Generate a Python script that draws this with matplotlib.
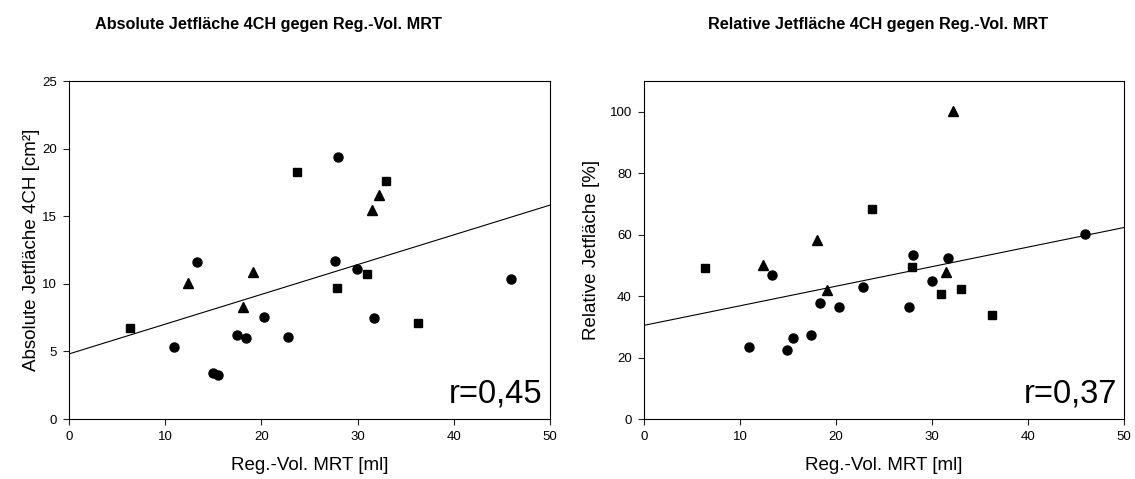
import numpy as np
import matplotlib
matplotlib.use('Agg')
import matplotlib.pyplot as plt

plt.rcParams['font.family'] = ['Liberation Sans', 'DejaVu Sans']

# Reg.-Vol. MRT [ml] per group
vol_sq = [6.35, 23.75, 33.0, 30.96, 27.88, 36.27]
vol_tri = [12.41, 19.1, 18.07, 31.45, 32.18]
vol_circ = [27.98, 13.35, 27.64, 29.96, 45.98, 20.28, 31.7, 17.44, 18.38, 22.78, 10.96, 14.94, 15.5]

# absolute jet area 4CH [cm²]
abs_sq = [6.75, 18.28, 17.6, 10.74, 9.66, 7.07]
abs_tri = [10.05, 10.85, 8.3, 15.47, 16.55]
abs_circ = [19.38, 11.63, 11.72, 11.11, 10.32, 7.54, 7.49, 6.18, 5.99, 6.06, 5.3, 3.37, 3.23]

# relative jet area [%]
rel_sq = [49.1, 68.3, 42.3, 40.7, 49.6, 33.7]
rel_tri = [50.0, 42.0, 58.4, 47.9, 100.3]
rel_circ = [53.5, 47.0, 36.6, 44.8, 60.1, 36.6, 52.4, 27.5, 37.6, 42.9, 23.4, 22.3, 26.3]

r_texts = ["r=0,45", "r=0,37"]
titles = ["Absolute Jetfläche 4CH gegen Reg.-Vol. MRT",
          "Relative Jetfläche 4CH gegen Reg.-Vol. MRT"]
ylabels = ["Absolute Jetfläche 4CH [cm²]", "Relative Jetfläche [%]"]

fig = plt.figure(figsize=(11.35, 4.79), dpi=100)
ax1 = fig.add_axes([69/1135, 1-419/479, 481/1135, 338/479])
ax2 = fig.add_axes([644/1135, 1-419/479, 480/1135, 338/479])


def draw(ax, sq, tri, circ, ylim, yticks, ylabel, rtext, ylab_x):
    ax.plot(vol_circ, circ, 'o', color='black', markersize=6.5, linestyle='none')
    ax.plot(vol_sq, sq, 's', color='black', markersize=6, linestyle='none')
    ax.plot(vol_tri, tri, '^', color='black', markersize=6.5, linestyle='none')
    x_all = np.array(vol_sq + vol_tri + vol_circ)
    y_all = np.array(sq + tri + circ)
    k, d = np.polyfit(x_all, y_all, 1)
    xs = np.array([0, 50])
    ax.plot(xs, k*xs + d, color='black', linewidth=0.8)
    ax.set_xlim(0, 50)
    ax.set_ylim(*ylim)
    ax.set_xticks([0, 10, 20, 30, 40, 50])
    ax.set_yticks(yticks)
    ax.tick_params(direction='out', length=4.3, width=0.8, labelsize=9.5, pad=4.5,
                   top=False, right=False, colors='#222222', labelcolor='black')
    for s in ax.spines.values():
        s.set_linewidth(0.8)
    ax.set_xlabel("Reg.-Vol. MRT [ml]", fontsize=13.5)
    ax.set_ylabel(ylabel, fontsize=13.5)
    ax.xaxis.set_label_coords(0.5, -0.113)
    ax.yaxis.set_label_coords(ylab_x, 0.5)
    ax.text(0.985, 0.05, rtext, transform=ax.transAxes, ha='right', va='baseline',
            fontsize=23.5)


draw(ax1, abs_sq, abs_tri, abs_circ, (0, 25), [0, 5, 10, 15, 20, 25], ylabels[0], r_texts[0], -0.060)
draw(ax2, rel_sq, rel_tri, rel_circ, (0, 110), [0, 20, 40, 60, 80, 100], ylabels[1], r_texts[1], -0.092)

fig.text(268/1135, 1-25/479, titles[0], ha='center', va='center', fontsize=11.7, fontweight='bold')
fig.text(878/1135, 1-25/479, titles[1], ha='center', va='center', fontsize=11.7, fontweight='bold')

fig.savefig('out.png', dpi=100)
